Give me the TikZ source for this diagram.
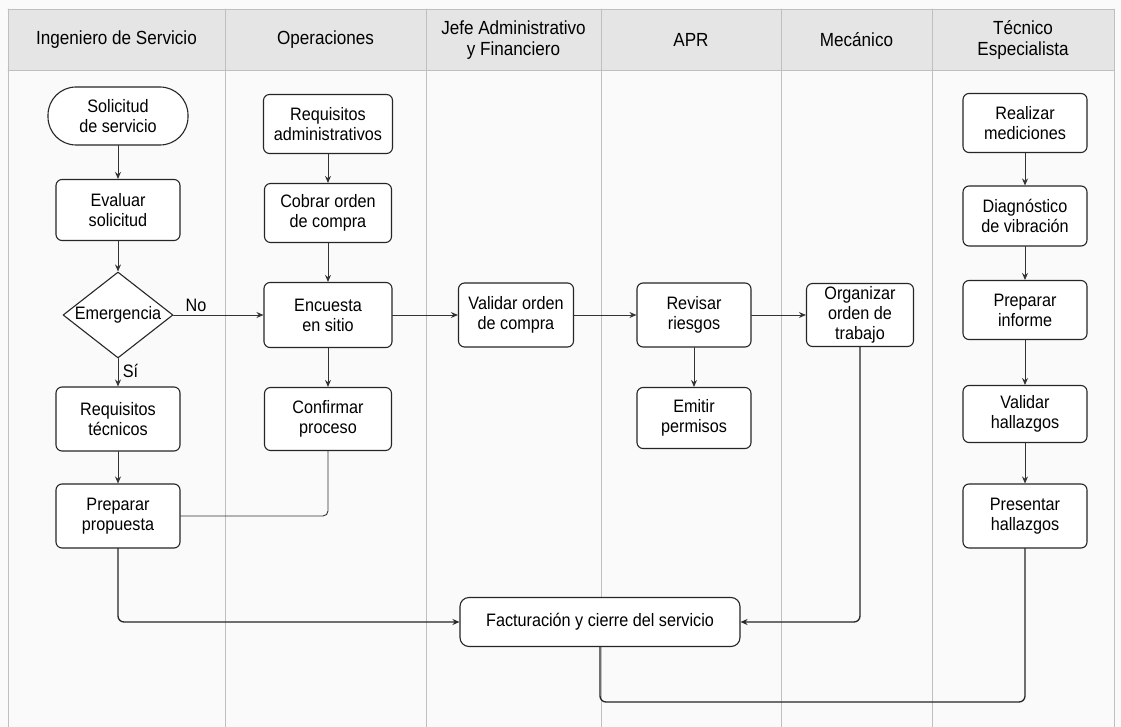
\documentclass[tikz,border=0pt]{standalone}
\usepackage{fontspec}
\setmainfont{Liberation Sans}[FakeStretch=0.9]
\usetikzlibrary{shapes.geometric,arrows.meta}

\begin{document}
\begin{tikzpicture}[x=1pt,y=-1pt,>={Stealth[length=7pt,width=6pt]},
	line join=round, line cap=round, font=\fontsize{18}{20}\selectfont,
	box/.style={draw=black!85,line width=1.1pt,rounded corners=6pt,fill=white,align=center,inner sep=0pt},
	term/.style={box,rounded corners=28pt},
	decision/.style={draw=black!85,line width=1.1pt,diamond,fill=white,inner sep=0pt,minimum width=110pt,minimum height=86pt},
	flow/.style={->,draw=black!80,line width=0.9pt},
	link/.style={draw=black!80,line width=0.9pt,rounded corners=5pt},
	bigflow/.style={draw=black!85,line width=1.3pt,rounded corners=6pt},
	lane/.style={draw=black!25,line width=0.8pt},
	head/.style={font=\fontsize{19}{21}\selectfont,align=center}]
	\def\xmin{8} \def\xmax{1114}
	\def\ytop{9} \def\yhead{70} \def\ybot{727}
	\useasboundingbox (0,0) rectangle (1121,727);
	\fill[black!2] (0,0) rectangle (1121,727);
	\fill[black!10] (\xmin,\ytop) rectangle (\xmax,\yhead);
	\draw[lane] (\xmin,\ytop)--(\xmax,\ytop);
	\draw[lane] (\xmin,\yhead)--(\xmax,\yhead);
	\foreach \x in {\xmin,225,426,601,781,932,\xmax}
	\draw[lane] (\x,\ytop)--(\x,\ybot);
	% lane titles
	\node[head] (h1) at (116.5,40) {Ingeniero de Servicio};
	\node[head] (h2) at (325.5,40) {Operaciones};
	\node[head] (h3) at (513.5,40) {Jefe Administrativo\\y Financiero};
	\node[head] (h4) at (691,40) {APR};
	\node[head] (h5) at (856.5,40) {Mecánico};
	\node[head] (h6) at (1023,40) {Técnico\\Especialista};
	% Ingeniero de Servicio
	\node[term,minimum width=140pt,minimum height=58pt] (sol) at (118,116) {Solicitud\\de servicio};
	\node[box,minimum width=124pt,minimum height=61pt] (eva) at (118,210) {Evaluar\\solicitud};
	\node[decision] (eme) at (118,315) {\makebox[0pt]{Emergencia}};
	\node[box,minimum width=124pt,minimum height=64pt] (rtec) at (118,419) {Requisitos\\técnicos};
	\node[box,minimum width=124pt,minimum height=64pt] (prop) at (118,516) {Preparar\\propuesta};
	% Operaciones
	\node[box,minimum width=129pt,minimum height=59pt] (radm) at (328,124) {Requisitos\\administrativos};
	\node[box,minimum width=127pt,minimum height=59pt] (cob) at (328,213) {Cobrar orden\\de compra};
	\node[box,minimum width=128pt,minimum height=65pt] (enc) at (328,315) {Encuesta\\en sitio};
	\node[box,minimum width=127pt,minimum height=63pt] (conf) at (328,419) {Confirmar\\proceso};
	% Jefe, APR, Mecanico
	\node[box,minimum width=115pt,minimum height=64pt] (val) at (516,315) {Validar orden\\de compra};
	\node[box,minimum width=114pt,minimum height=64pt] (rev) at (694,315) {Revisar\\riesgos};
	\node[box,minimum width=114pt,minimum height=61pt] (emi) at (694,418) {Emitir\\permisos};
	\node[box,minimum width=107pt,minimum height=63pt] (org) at (860,315) {Organizar\\orden de\\trabajo};
	% Tecnico Especialista
	\node[box,minimum width=124pt,minimum height=59pt] (med) at (1025,123) {Realizar\\mediciones};
	\node[box,minimum width=124pt,minimum height=60pt] (dia) at (1025,216) {Diagnóstico\\de vibración};
	\node[box,minimum width=124pt,minimum height=59pt] (inf) at (1025,310) {Preparar\\informe};
	\node[box,minimum width=124pt,minimum height=57pt] (hal) at (1025,414) {Validar\\hallazgos};
	\node[box,minimum width=124pt,minimum height=64pt] (pre) at (1025,516) {Presentar\\hallazgos};
	% cierre
	\node[box,rounded corners=9pt,minimum width=280pt,minimum height=49pt] (fac) at (600,622) {Facturación y cierre del servicio};
	\coordinate (fondo) at (1025,702);
	% connectors
	\draw[flow] (sol)--(eva);
	\draw[flow] (eva)--(eme);
	\draw[flow] (eme)--(rtec) node[pos=0.45,right=1pt]{Sí};
	\draw[flow] (eme)--(enc) node[pos=0.25,above=0pt]{No};
	\draw[flow] (rtec)--(prop);
	\draw[flow] (radm)--(cob);
	\draw[flow] (cob)--(enc);
	\draw[flow] (enc)--(conf);
	\draw[link] (conf.south)|-(prop.east);
	\draw[flow] (enc)--(val);
	\draw[flow] (val)--(rev);
	\draw[flow] (rev)--(emi);
	\draw[flow] (rev)--(org);
	\draw[flow] (med)--(dia);
	\draw[flow] (dia)--(inf);
	\draw[flow] (inf)--(hal);
	\draw[flow] (hal)--(pre);
	\draw[bigflow,->] (prop.south)|-(fac.west);
	\draw[bigflow,->] (org.south)|-(fac.east);
	\draw[bigflow] (fac.south)|-(fondo)--(pre.south);
\end{tikzpicture}
\end{document}
